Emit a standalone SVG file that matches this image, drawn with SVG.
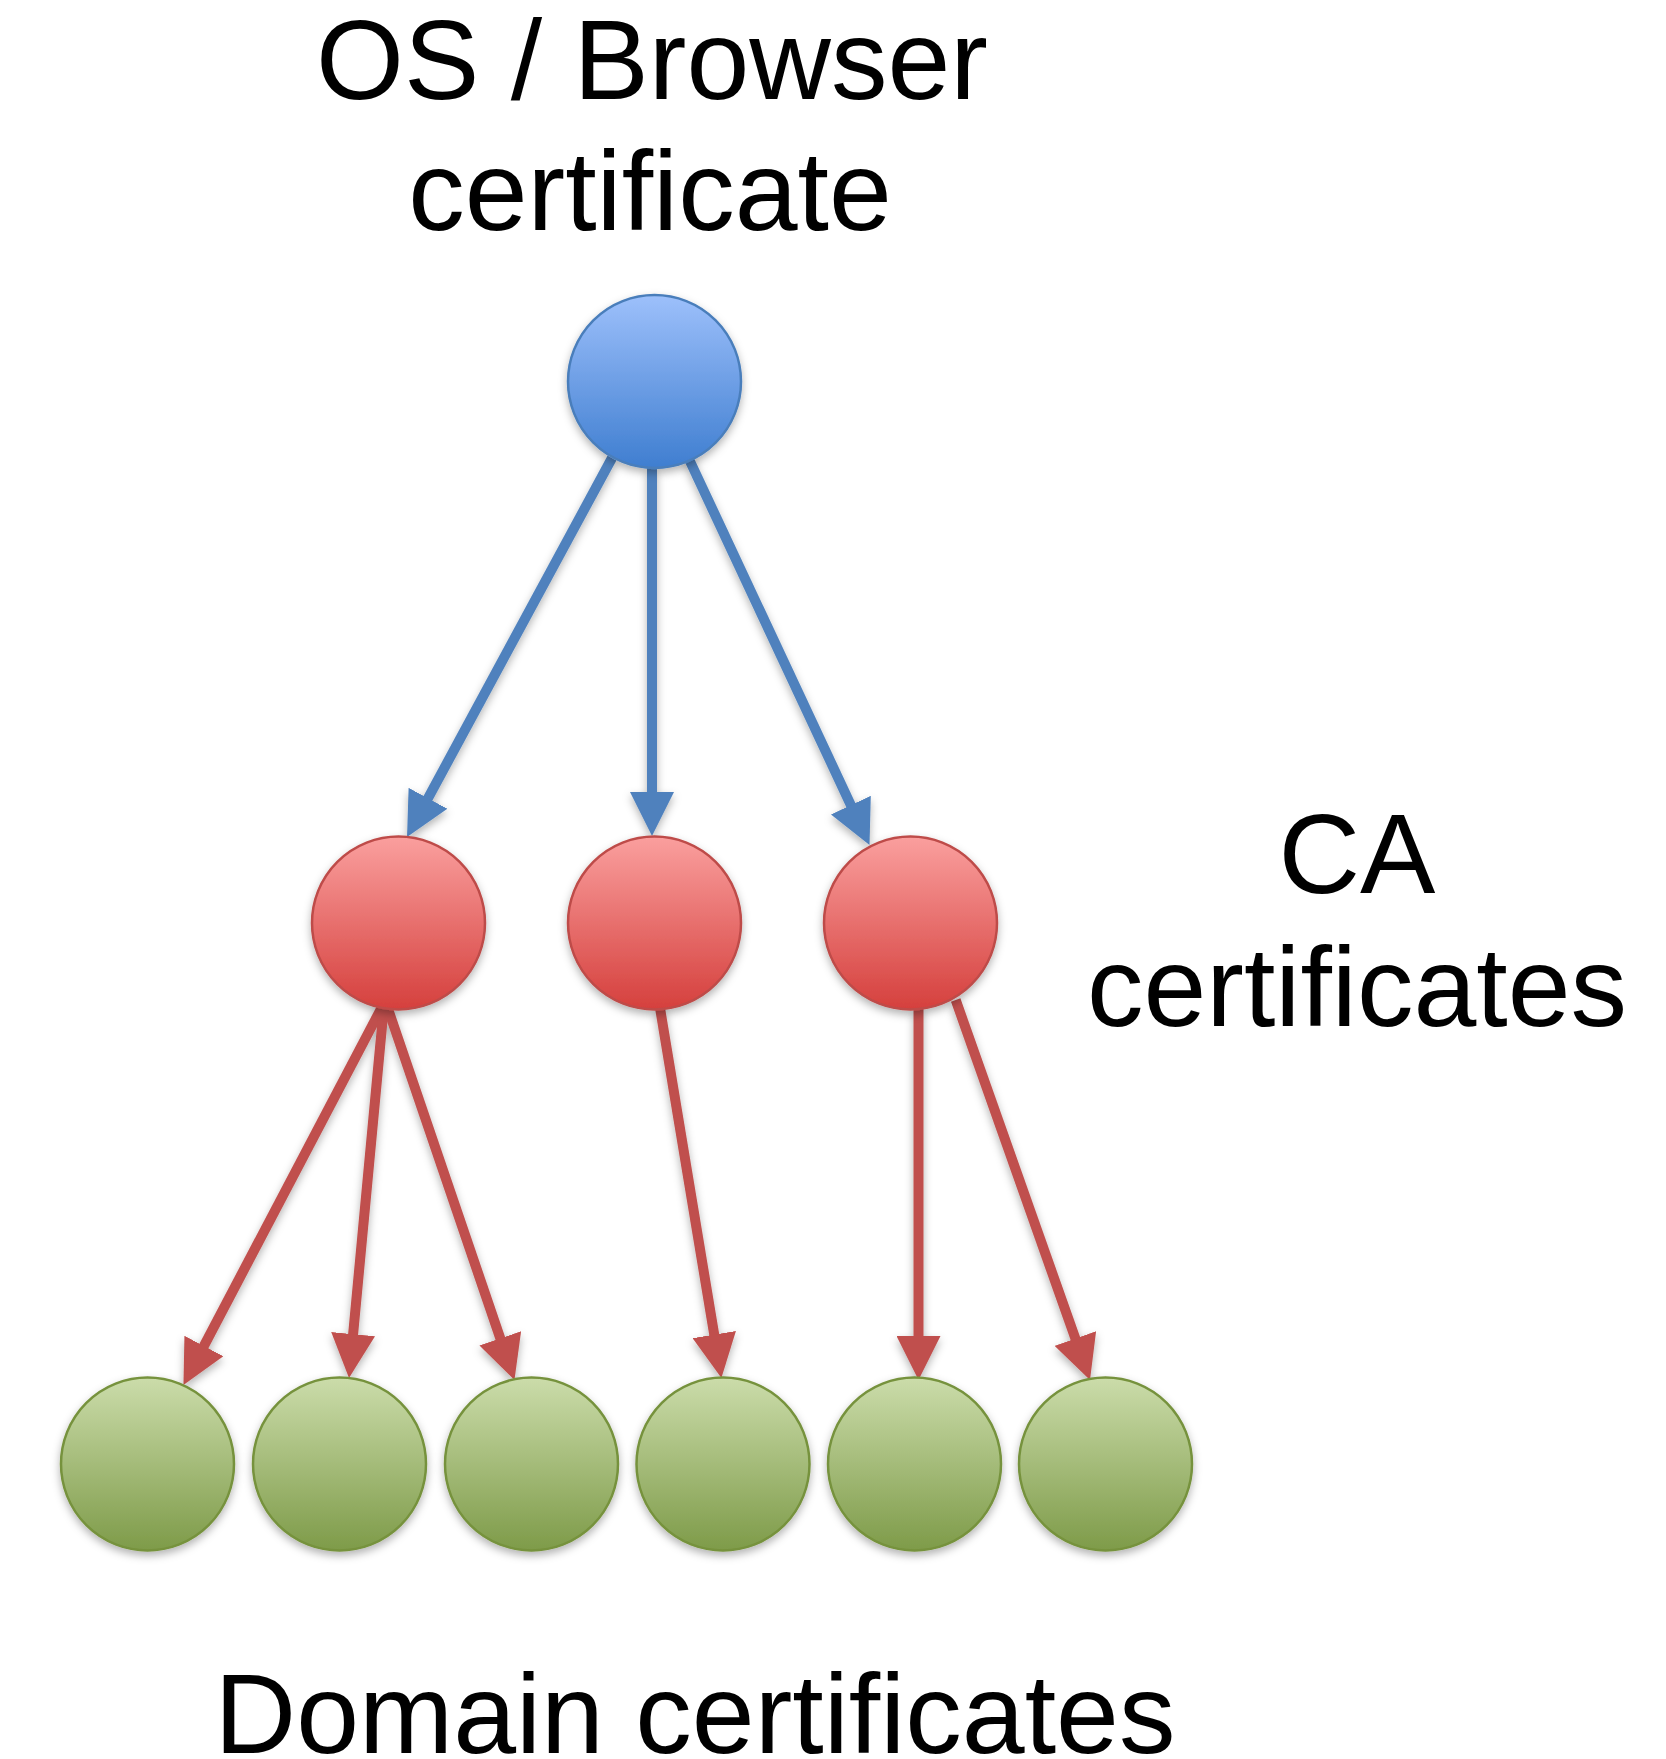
<svg xmlns="http://www.w3.org/2000/svg" width="1666" height="1759" viewBox="0 0 1666 1759">
  <style>
    .label { font-family: "Liberation Sans", Arial, Helvetica, sans-serif; font-size: 113px; fill: #000; text-anchor: middle; }
    .root { fill: url(#gBlue); stroke: #4a7ebb; stroke-width: 2.5; }
    .ca { fill: url(#gRed); stroke: #be4b48; stroke-width: 2.5; }
    .leaf { fill: url(#gGreen); stroke: #76923c; stroke-width: 2.5; }
    .blue { stroke: #4f81bd; stroke-width: 10; fill: none; marker-end: url(#headBlue); }
    .red { stroke: #c0504d; stroke-width: 10; fill: none; marker-end: url(#headRed); }
  </style>
  <defs>
    <linearGradient id="gBlue" x1="0" y1="0" x2="0" y2="1">
      <stop offset="0" stop-color="#9dc0fb"/>
      <stop offset="1" stop-color="#3f7ed0"/>
    </linearGradient>
    <linearGradient id="gRed" x1="0" y1="0" x2="0" y2="1">
      <stop offset="0" stop-color="#fa9f9e"/>
      <stop offset="1" stop-color="#d5403d"/>
    </linearGradient>
    <linearGradient id="gGreen" x1="0" y1="0" x2="0" y2="1">
      <stop offset="0" stop-color="#cbdcaa"/>
      <stop offset="1" stop-color="#7e9b49"/>
    </linearGradient>
    <filter id="shadow" x="-20%" y="-20%" width="140%" height="150%">
      <feDropShadow dx="0" dy="4" stdDeviation="4" flood-color="#000" flood-opacity="0.3"/>
    </filter>
    <marker id="headBlue" markerUnits="userSpaceOnUse" markerWidth="44" markerHeight="44" viewBox="0 0 44 44" refX="14" refY="22" orient="auto">
      <path d="M0,0 L44,22 L0,44 Z" fill="#4f81bd"/>
    </marker>
    <marker id="headRed" markerUnits="userSpaceOnUse" markerWidth="44" markerHeight="44" viewBox="0 0 44 44" refX="14" refY="22" orient="auto">
      <path d="M0,0 L44,22 L0,44 Z" fill="#c0504d"/>
    </marker>
  </defs>

  <rect width="1666" height="1759" fill="#ffffff"/>

  <!-- labels -->
  <text class="label" x="652" y="99">OS / Browser</text>
  <text class="label" x="650" y="230">certificate</text>
  <text class="label" x="1357" y="893">CA</text>
  <text class="label" x="1357" y="1026">certificates</text>
  <text class="label" x="695" y="1753">Domain certificates</text>

  <!-- connectors -->
  <g id="connectors" filter="url(#shadow)">
    <line class="blue" x1="612" y1="458" x2="421.3" y2="810.6"/>
    <line class="blue" x1="652" y1="468" x2="652" y2="806"/>
    <line class="blue" x1="688" y1="457" x2="856.8" y2="817.8"/>

    <line class="red" x1="383" y1="1005" x2="197.4" y2="1358.4"/>
    <line class="red" x1="384" y1="1005" x2="351.8" y2="1348.1"/>
    <line class="red" x1="386" y1="1003" x2="504.8" y2="1351.6"/>
    <line class="red" x1="660" y1="1008" x2="716.5" y2="1348.4"/>
    <line class="red" x1="918.5" y1="1008" x2="918.5" y2="1350"/>
    <line class="red" x1="955.7" y1="1000" x2="1080" y2="1351.7"/>
  </g>

  <!-- root certificate -->
  <g id="root" filter="url(#shadow)">
    <circle class="root" cx="654.5" cy="381.5" r="86.5"/>
  </g>

  <!-- CA certificates -->
  <g id="ca1" filter="url(#shadow)"><circle class="ca" cx="398.5" cy="923" r="86.5"/></g>
  <g id="ca2" filter="url(#shadow)"><circle class="ca" cx="654.5" cy="923" r="86.5"/></g>
  <g id="ca3" filter="url(#shadow)"><circle class="ca" cx="910.5" cy="923" r="86.5"/></g>

  <!-- domain certificates -->
  <g id="leaf1" filter="url(#shadow)"><circle class="leaf" cx="147.5" cy="1464" r="86.5"/></g>
  <g id="leaf2" filter="url(#shadow)"><circle class="leaf" cx="339.5" cy="1464" r="86.5"/></g>
  <g id="leaf3" filter="url(#shadow)"><circle class="leaf" cx="531.5" cy="1464" r="86.5"/></g>
  <g id="leaf4" filter="url(#shadow)"><circle class="leaf" cx="723" cy="1464" r="86.5"/></g>
  <g id="leaf5" filter="url(#shadow)"><circle class="leaf" cx="914.5" cy="1464" r="86.5"/></g>
  <g id="leaf6" filter="url(#shadow)"><circle class="leaf" cx="1105.5" cy="1464" r="86.5"/></g>
</svg>
